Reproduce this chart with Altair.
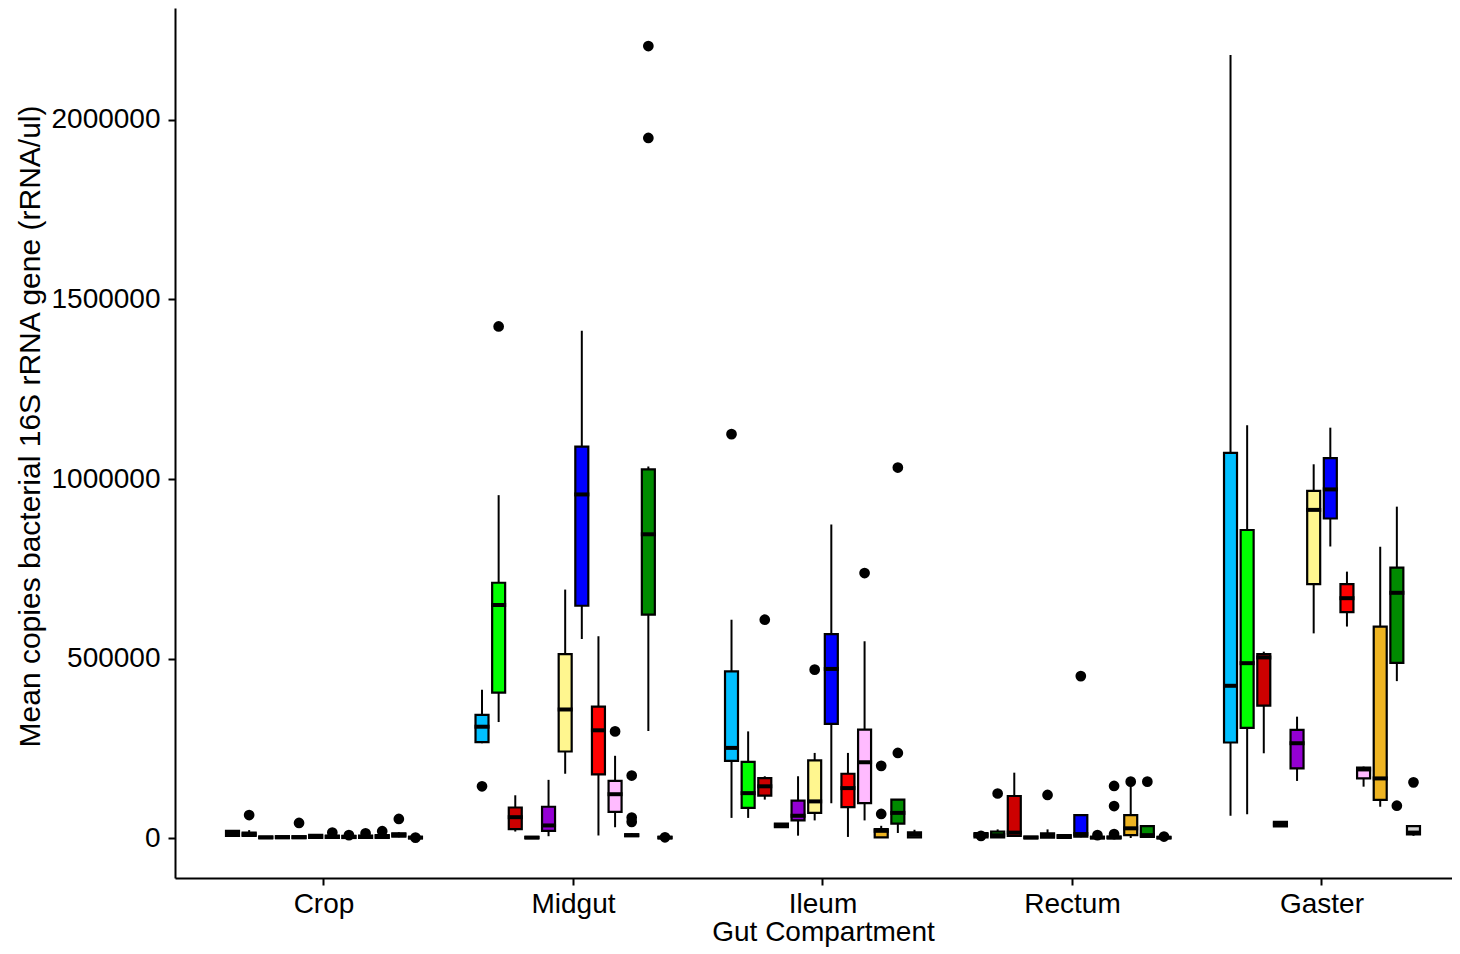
import altair as alt
import pandas as pd

compartments = ["Crop", "Midgut", "Ileum", "Rectum", "Gaster"]
groups = ["G01", "G02", "G03", "G04", "G05", "G06", "G07", "G08", "G09", "G10", "G11", "G12"]
colors = ["#00BFFF", "#00FF00", "#CD0000", "#000000", "#9400D3", "#FFF68F",
          "#0000FF", "#FF0000", "#FFBBFF", "#EEB422", "#008B00", "#D3D3D3"]

# box statistics, 12 groups per compartment (Crop, Midgut, Ileum, Rectum, Gaster)
low = [
    5000, 3000, 0, 0, 0, 0, 0, 0, 0, 0, 2000, 0,
    264000, 323000, 18000, 0, 5000, 179000, 554000, 7000, 30000, 3000, 298000, 0,
    56000, 56000, 107000, 30000, 6500, 49000, 97000, 3000, 49000, 0, 14000, 2000,
    2000, 2000, 4000, 0, 1000, 0, 2000, 0, 0, 0, 0, 0,
    62000, 66000, 236000, 32000, 159000, 570000, 812000, 589000, 143000, 87000, 437000, 6000,
]
q1 = [
    6000, 6000, 0, 0, 0, 0, 0, 0, 0, 0, 4000, 0,
    267000, 405000, 25000, 0, 20000, 241000, 647000, 177000, 73000, 5000, 622000, 0,
    215000, 84000, 118000, 30000, 49000, 70000, 318000, 86000, 97000, 2000, 40000, 2000,
    2000, 2000, 6000, 0, 1000, 0, 4000, 0, 0, 8000, 3000, 0,
    266000, 307000, 369000, 32000, 194000, 707000, 890000, 629000, 166000, 106000, 488000, 10000,
]
median = [
    13000, 10000, 1500, 2000, 2000, 4000, 3000, 3000, 3000, 4000, 9000, 1000,
    310000, 649000, 58000, 1000, 35000, 358000, 957000, 300000, 122000, 8000, 846000, 1000,
    251000, 125000, 144000, 35000, 62000, 102000, 471000, 139000, 211000, 20000, 70000, 9000,
    8000, 8000, 15000, 1000, 6000, 4000, 11000, 1000, 1000, 27000, 8000, 1000,
    424000, 487000, 503000, 39000, 264000, 914000, 971000, 668000, 191000, 166000, 683000, 15000,
]
q3 = [
    20000, 15000, 4000, 5000, 5000, 9000, 7000, 6000, 7000, 8000, 13000, 3000,
    343000, 711000, 85000, 3000, 87000, 512000, 1090000, 366000, 159000, 10000, 1027000, 3000,
    464000, 212000, 167000, 40000, 104000, 216000, 568000, 179000, 302000, 25000, 107000, 16000,
    14000, 18000, 117000, 4000, 13000, 8000, 64000, 3000, 4000, 64000, 33000, 2000,
    1073000, 858000, 512000, 45000, 301000, 967000, 1058000, 707000, 196000, 589000, 753000, 33000,
]
high = [
    22000, 22000, 5000, 6000, 6000, 10000, 9000, 8000, 9000, 10000, 16000, 4000,
    413000, 955000, 119000, 4000, 162000, 692000, 1413000, 562000, 229000, 14000, 1035000, 4000,
    608000, 297000, 172000, 40000, 172000, 237000, 873000, 237000, 548000, 34000, 107000, 23000,
    14000, 24000, 182000, 4000, 24000, 8000, 64000, 4000, 5000, 150000, 36000, 3000,
    2181000, 1150000, 519000, 45000, 338000, 1041000, 1143000, 742000, 199000, 811000, 923000, 33000,
]

# outliers
out_compartment = ["Crop", "Crop", "Crop", "Crop", "Crop", "Crop", "Crop", "Crop",
                   "Midgut", "Midgut", "Midgut", "Midgut", "Midgut", "Midgut", "Midgut", "Midgut", "Midgut",
                   "Ileum", "Ileum", "Ileum", "Ileum", "Ileum", "Ileum", "Ileum", "Ileum",
                   "Rectum", "Rectum", "Rectum", "Rectum", "Rectum", "Rectum", "Rectum", "Rectum", "Rectum", "Rectum", "Rectum",
                   "Gaster", "Gaster"]
out_group = ["G02", "G05", "G07", "G08", "G09", "G10", "G11", "G12",
             "G01", "G02", "G09", "G10", "G10", "G10", "G11", "G11", "G12",
             "G01", "G03", "G06", "G09", "G10", "G10", "G11", "G11",
             "G02", "G05", "G07", "G08", "G09", "G09", "G09", "G10", "G11", "G12", "G01",
             "G11", "G12"]
out_value = [64000, 42000, 15000, 8000, 13000, 19000, 53000, 1000,
             144000, 1425000, 297000, 174000, 57000, 45000, 2206000, 1950000, 2000,
             1125000, 608000, 469000, 738000, 201000, 67000, 1032000, 237000,
             124000, 120000, 451000, 8000, 145000, 89000, 11000, 157000, 157000, 4000, 6000,
             90000, 155000]

box_df = pd.DataFrame({
    "compartment": [c for c in compartments for _ in groups],
    "group": groups * len(compartments),
    "lo": low, "q1": q1, "med": median, "q3": q3, "hi": high,
})
out_df = pd.DataFrame({"compartment": out_compartment, "group": out_group, "value": out_value})

FONT = "Liberation Sans"
offset_domain = ["_pad_l"] + groups + ["_pad_r"]

x_enc = alt.X("compartment:N", sort=compartments,
              scale=alt.Scale(domain=compartments, paddingInner=0, paddingOuter=0.0591, align=0.822),
              axis=alt.Axis(title="Gut Compartment", labelAngle=0, labelFontSize=28, titleFontSize=28,
                            labelPadding=5, tickSize=7, titleX=648, titleY=62,
                            titleBaseline="alphabetic", titleAlign="center"))
xo_enc = alt.XOffset("group:N", sort=offset_domain,
                     scale=alt.Scale(domain=offset_domain, paddingInner=0, paddingOuter=0.5))
y_scale = alt.Scale(domain=[-111400, 2311965], nice=False, zero=False)
y_axis = alt.Axis(title="Mean copies bacterial 16S rRNA gene (rRNA/ul)",
                  values=[0, 500000, 1000000, 1500000, 2000000], format="d",
                  labelFontSize=28, titleFontSize=30, tickSize=7, labelPadding=8,
                  titleX=-136, titleY=418, titleAngle=270, titleBaseline="alphabetic",
                  titleAlign="center")

base = alt.Chart(box_df).encode(x=x_enc, xOffset=xo_enc)

whisk = base.mark_rule(color="black", strokeWidth=2).encode(
    y=alt.Y("lo:Q", scale=y_scale, axis=y_axis), y2="hi:Q")
box = base.mark_bar(size=13, stroke="black", strokeWidth=2.2).encode(
    y=alt.Y("q1:Q", scale=y_scale), y2="q3:Q",
    color=alt.Color("group:N", scale=alt.Scale(domain=groups, range=colors), legend=None))
med = base.mark_tick(color="black", thickness=4, size=15, opacity=1).encode(
    y=alt.Y("med:Q", scale=y_scale))
pts = alt.Chart(out_df).mark_circle(size=115, color="black", opacity=1).encode(
    x=x_enc, xOffset=xo_enc, y=alt.Y("value:Q", scale=y_scale))

chart = alt.layer(whisk, box, med, pts).properties(
    width=1277, height=870,
    autosize=alt.AutoSizeParams(type="none"),
    padding={"left": 167, "top": 0, "right": 0, "bottom": 70},
).configure_view(stroke=None).configure_axis(
    grid=False, domainColor="black", domainWidth=2, tickColor="black", tickWidth=2,
    labelColor="black", titleColor="black", labelFont=FONT, titleFont=FONT,
    titleFontWeight="normal",
)

chart.save("out.html", embed_options={"renderer": "svg", "actions": False})
